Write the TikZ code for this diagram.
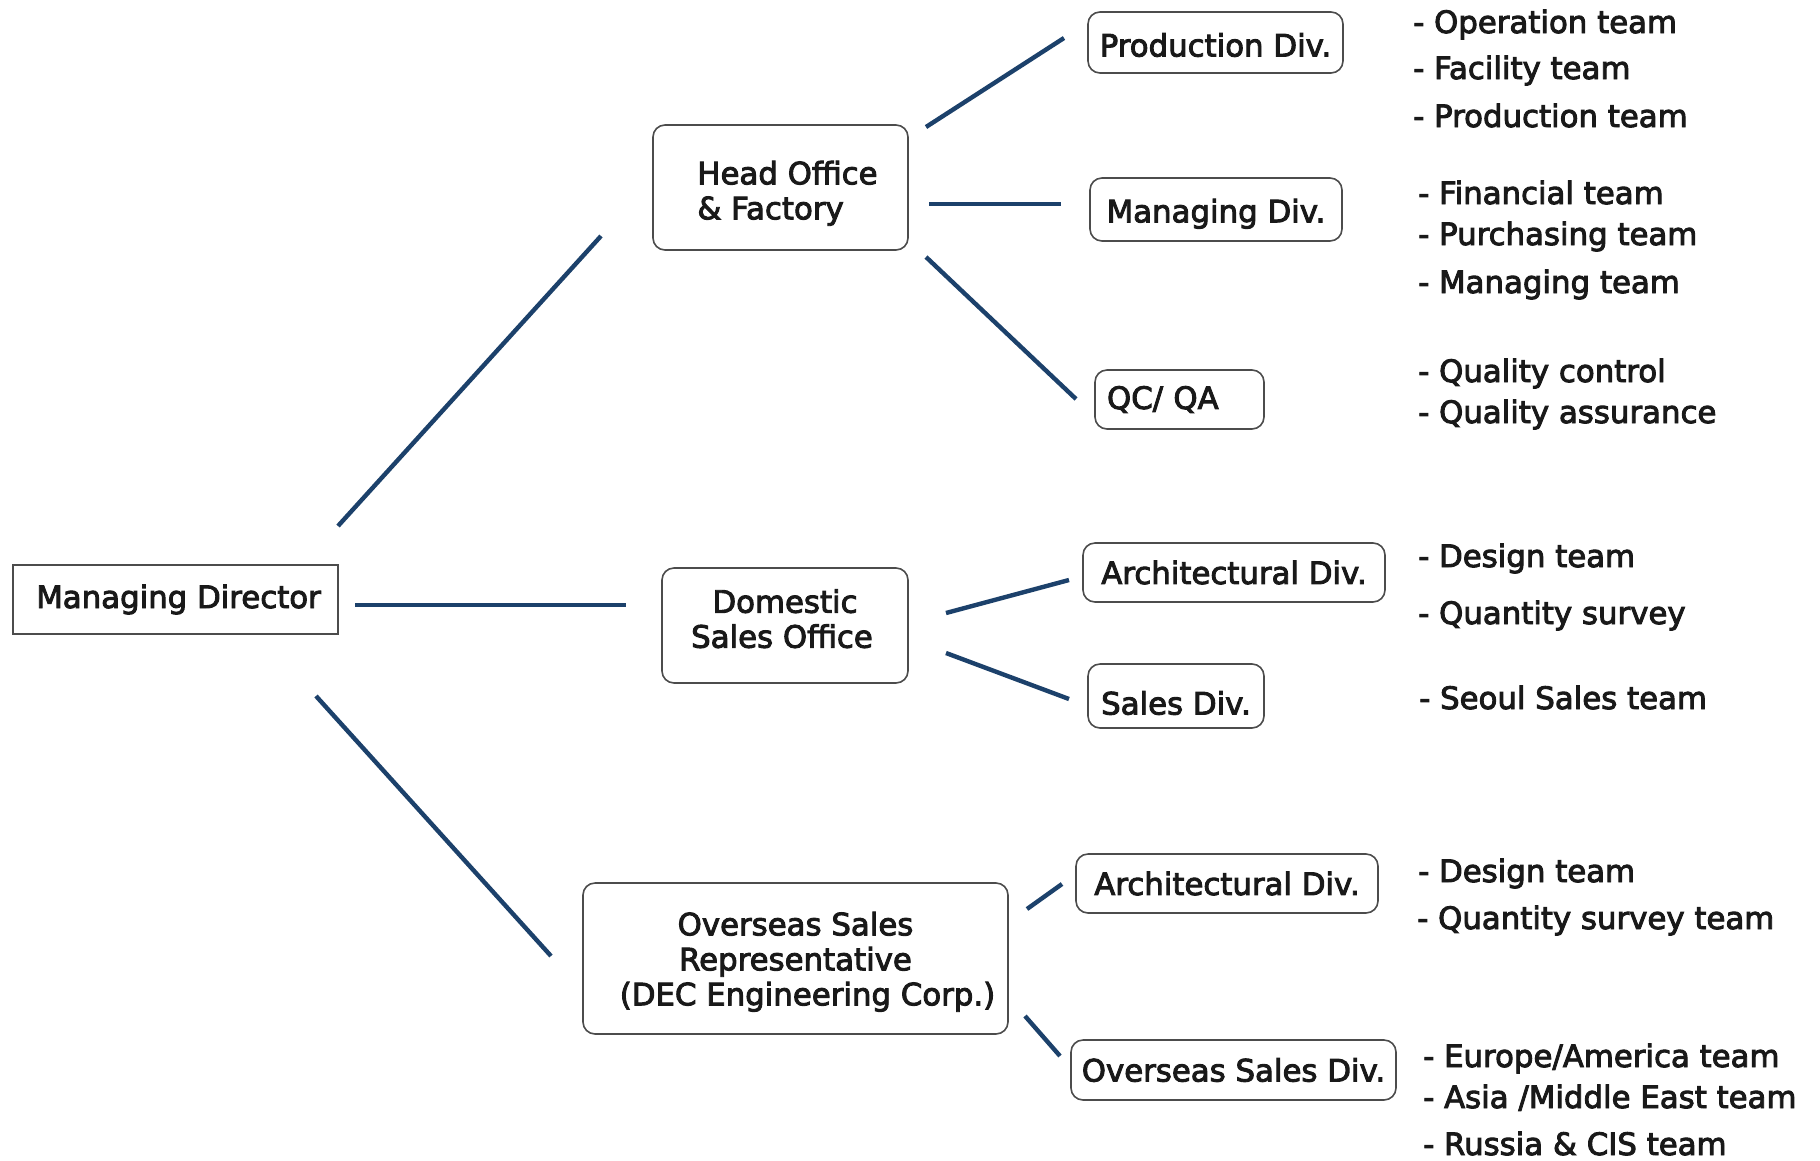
\documentclass[tikz,border=0pt]{standalone}
\usepackage{fontspec}
\setmainfont{DejaVu Sans}
\newfontfamily\lblfont{DejaVu Sans}[FakeBold=3]
\begin{document}
\begin{tikzpicture}[x=1pt,y=-1pt,
  every node/.style={font=\lblfont\fontsize{30.8}{35}\selectfont, text=black!90},
  sqbox/.style={draw=black!70, line width=1.6pt, fill=white, inner sep=0pt},
  rbox/.style={sqbox, rounded corners=12pt},
  conn/.style={draw=linecol, line width=4.4pt},
  team/.style={anchor=base west, inner sep=0pt}]
\definecolor{linecol}{HTML}{1C416B}
\useasboundingbox[fill=white] (0,0) rectangle (1820,1160);

% boxes
\node[sqbox, minimum width=325pt, minimum height=69pt] (md) at (175.5,599.5) {\hspace*{6pt}Managing Director};
\node[rbox, minimum width=255pt, minimum height=125pt, align=left] (ho) at (780.5,187.5) {\rule{0pt}{35pt}\hspace*{14pt}Head Office\\\hspace*{14pt}\& Factory};
\node[rbox, minimum width=246pt, minimum height=115pt, align=center] (dso) at (785,625.5) {Domestic\\Sales Office\rule[-14pt]{0pt}{0pt}\hspace*{6pt}};
\node[rbox, minimum width=425pt, minimum height=151pt, align=center] (osr) at (795.5,958.5) {\rule{0pt}{30pt}Overseas Sales\\Representative\\\hspace*{24pt}(DEC Engineering Corp.)};
\node[rbox, minimum width=255pt, minimum height=61pt, text height=28pt, text depth=0pt] (prod) at (1215.5,42.5) {Production Div.};
\node[rbox, minimum width=252pt, minimum height=63pt, text height=30pt, text depth=4.4pt] (mgd) at (1216,209.5) {Managing Div.};
\node[rbox, minimum height=59pt, text width=145pt, align=left, inner xsep=12pt] (qc) at (1179.5,399.5) {QC/ QA};
\node[rbox, minimum width=302pt, minimum height=59pt] (arch1) at (1234,572.5) {Architectural Div.};
\node[rbox, minimum width=176pt, minimum height=64pt, text height=37pt, text depth=0pt] (sales) at (1176,696) {Sales Div.};
\node[rbox, minimum width=302pt, minimum height=59pt] (arch2) at (1227,883.5) {Architectural Div.};
\node[rbox, minimum width=325pt, minimum height=60pt] (osd) at (1233.5,1070) {Overseas Sales Div.};

% connector end points (lines stop short of the boxes)
\coordinate (mdA) at (338,526);  \coordinate (hoA) at (601,236);
\coordinate (mdB) at (355,605);  \coordinate (dsoB) at (626,605);
\coordinate (mdC) at (316,696);  \coordinate (osrC) at (551,956);
\coordinate (hoP) at (926,127);  \coordinate (prodP) at (1064,38);
\coordinate (hoM) at (929,204);  \coordinate (mgdM) at (1061,204);
\coordinate (hoQ) at (926,257);  \coordinate (qcQ) at (1076,399);
\coordinate (dsoA) at (946,613); \coordinate (arch1A) at (1069,580);
\coordinate (dsoS) at (946,653); \coordinate (salesS) at (1069,699);
\coordinate (osrA) at (1027,909); \coordinate (arch2A) at (1062,884);
\coordinate (osrO) at (1025,1016); \coordinate (osdO) at (1060,1056);

\draw[conn] (mdA) -- (hoA);
\draw[conn] (mdB) -- (dsoB);
\draw[conn] (mdC) -- (osrC);
\draw[conn] (hoP) -- (prodP);
\draw[conn] (hoM) -- (mgdM);
\draw[conn] (hoQ) -- (qcQ);
\draw[conn] (dsoA) -- (arch1A);
\draw[conn] (dsoS) -- (salesS);
\draw[conn] (osrA) -- (arch2A);
\draw[conn] (osrO) -- (osdO);

% team lists
\node[team] (t1) at (1413,33) {- Operation team};
\node[team] (t2) at (1413,79) {- Facility team};
\node[team] (t3) at (1413,127) {- Production team};
\node[team] (t4) at (1418,204) {- Financial team};
\node[team] (t5) at (1418,245) {- Purchasing team};
\node[team] (t6) at (1418,293) {- Managing team};
\node[team] (t7) at (1418,382) {- Quality control};
\node[team] (t8) at (1418,423) {- Quality assurance};
\node[team] (t9) at (1418,567) {- Design team};
\node[team] (t10) at (1418,624) {- Quantity survey};
\node[team] (t11) at (1419,709) {- Seoul Sales team};
\node[team] (t12) at (1418,882) {- Design team};
\node[team] (t13) at (1417,929) {- Quantity survey team};
\node[team] (t14) at (1423,1067) {- Europe/America team};
\node[team] (t15) at (1423,1108) {- Asia /Middle East team};
\node[team] (t16) at (1423,1155) {- Russia \& CIS team};
\end{tikzpicture}
\end{document}
